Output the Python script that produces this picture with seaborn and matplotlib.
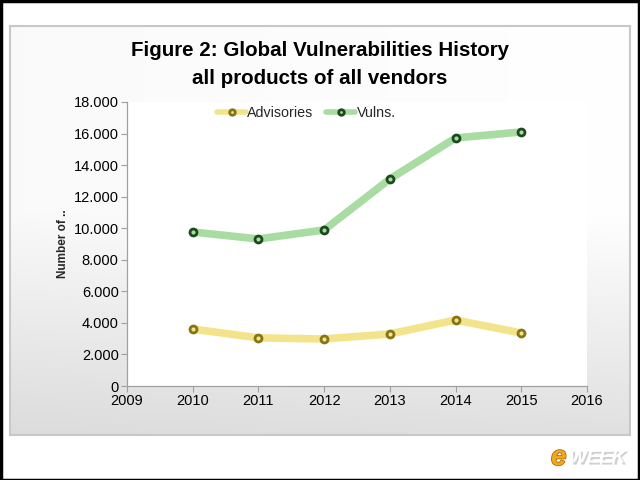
import numpy as np
import pandas as pd
import matplotlib
matplotlib.use("Agg")
import matplotlib.pyplot as plt
import matplotlib.patheffects as pe
from matplotlib.patches import Rectangle
from matplotlib.ticker import FuncFormatter
import seaborn as sns

years = [2010, 2011, 2012, 2013, 2014, 2015]
advisories = [3610, 3050, 2980, 3300, 4180, 3360]
vulns = [9760, 9320, 9890, 13120, 15720, 16100]
series_names = ["Advisories", "Vulns."]
x_ticks = [2009, 2010, 2011, 2012, 2013, 2014, 2015, 2016]
y_ticks = [0, 2000, 4000, 6000, 8000, 10000, 12000, 14000, 16000, 18000]

df = pd.DataFrame({
    "year": years * 2,
    "value": advisories + vulns,
    "series": [series_names[0]] * len(years) + [series_names[1]] * len(years),
})

sns.set_theme(style="white")
plt.rcParams["font.family"] = ["Liberation Sans", "DejaVu Sans"]

fig = plt.figure(figsize=(6.4, 4.8), dpi=100)
fig.patch.set_facecolor("white")

# gradient panel background
bg = fig.add_axes([10/640, 1-435/480, 620/640, 409/480], zorder=-10)
cols = np.ones((256, 256, 3))
for i in range(256):
    t = max(0, (i/255 - 0.45) / 0.55)
    cols[i, :, :] = 1.0 - 0.12 * t
for j in range(256):
    cols[:, j, :] *= 1.0 - 0.02 * (1 - j/255)
bg.imshow(cols, aspect="auto", extent=[0, 1, 0, 1])
bg.set_xticks([]); bg.set_yticks([])
for s in bg.spines.values():
    s.set_color("#c8c8c8"); s.set_linewidth(1.5)

# outer black border
fig.add_artist(Rectangle((0.001, 0.001), 0.997, 0.997, transform=fig.transFigure,
                         fill=False, edgecolor="black", linewidth=2.5))

ax = fig.add_axes([127/640, 1-386/480, 460/640, 284/480])
ax.set_facecolor("white")

palette = {"Advisories": "#f3e48c", "Vulns.": "#a9dca3"}
edges = {"Advisories": "#857514", "Vulns.": "#1d4a1d"}

for name in series_names:
    sub = df[df["series"] == name]
    sns.lineplot(data=sub, x="year", y="value", ax=ax, color=palette[name],
                 linewidth=5.5, marker="o", markersize=5,
                 markeredgecolor=edges[name], markerfacecolor=palette[name],
                 markeredgewidth=2.0, label=name, solid_capstyle="round")

ax.set_xlim(2009, 2016)
ax.set_ylim(0, 18000)
ax.set_xticks(x_ticks)
ax.set_yticks(y_ticks)
ax.yaxis.set_major_formatter(FuncFormatter(lambda v, p: f"{int(v):,}".replace(",", ".")))
ax.tick_params(axis="both", labelsize=10.5, labelcolor="black", length=4, width=0.8,
               direction="out", bottom=True, left=True, pad=2, color="#a0a0a0")
for s in ["top", "right"]:
    ax.spines[s].set_visible(False)
for s in ["left", "bottom"]:
    ax.spines[s].set_color("#a0a0a0")
    ax.spines[s].set_linewidth(0.9)
ax.set_xlabel("")
ax.set_ylabel("Number of ..", fontsize=8.5, fontweight="bold", labelpad=3)

leg = ax.legend(loc="upper center", bbox_to_anchor=(0.39, 1.03), ncol=2, frameon=False,
                fontsize=10.3, handlelength=2.0, columnspacing=0.9, handletextpad=0.1)
for line in leg.get_lines():
    line.set_linewidth(4)
    line.set_markersize(4)

fig.text(0.5, 1-51/480, "Figure 2: Global Vulnerabilities History", ha="center", va="center",
         fontsize=14.8, fontweight="bold", color="black")
fig.text(0.5, 1-79/480, "all products of all vendors", ha="center", va="center",
         fontsize=14.8, fontweight="bold", color="black")

# eWEEK logo
fig.text(551/640, 1-458/480, "e", fontsize=20, fontweight="bold", style="italic",
         color="#f0a81c", ha="left", va="center",
         path_effects=[pe.withStroke(linewidth=1.2, foreground="#b07010")])
fig.text(569/640, 1-458/480, "WEEK", fontsize=13.5, fontweight="bold", style="italic",
         color="white", ha="left", va="center",
         path_effects=[pe.SimplePatchShadow(offset=(1.5, -1.5), shadow_rgbFace="#666666"), pe.Normal()])

fig.savefig("out.png", dpi=100)
